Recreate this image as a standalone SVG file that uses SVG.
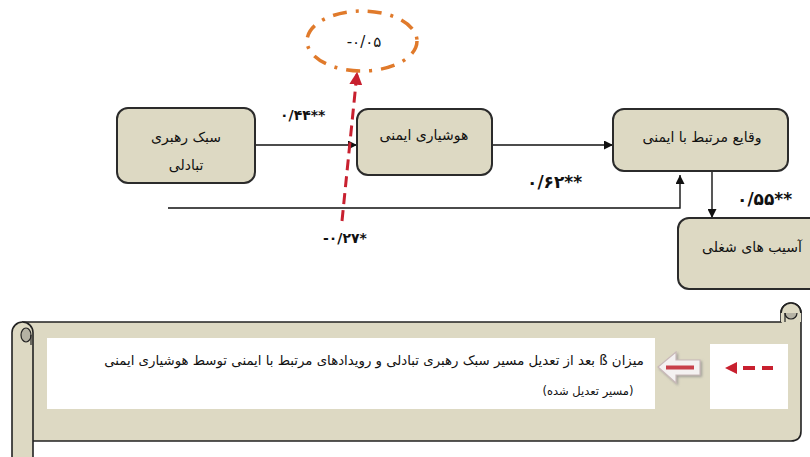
<svg xmlns="http://www.w3.org/2000/svg" width="810" height="457" viewBox="0 0 810 457">
<defs>
<style>
.node{fill:#DDD9C3;stroke:#2b2b2b;stroke-width:2}
.t{font-family:"DejaVu Sans",sans-serif;font-size:14px;fill:#111;text-anchor:middle}
.n{font-family:"DejaVu Sans",sans-serif;font-size:15px;fill:#111;font-weight:bold}
.conn{stroke:#111;stroke-width:1.4;fill:none}
.scroll{fill:#DDD9C3;stroke:#222;stroke-width:1.6}
.curl{fill:#B5B2A4;stroke:#222;stroke-width:1.2}
</style>
<marker id="ah" viewBox="0 0 10 10" refX="10" refY="5" markerWidth="9" markerHeight="9" markerUnits="userSpaceOnUse" orient="auto">
<path d="M0,0 L10,5 L0,10 Z" fill="#111"/>
</marker>
<marker id="ahr" viewBox="0 0 10 10" refX="9" refY="5" markerWidth="13" markerHeight="13" markerUnits="userSpaceOnUse" orient="auto">
<path d="M0,0 L10,5 L0,10 Z" fill="#C8202F"/>
</marker>
<filter id="sh" x="-20%" y="-20%" width="150%" height="150%">
<feDropShadow dx="1.5" dy="1.5" stdDeviation="1" flood-color="#888" flood-opacity="0.7"/>
</filter>
</defs>

<g id="moderation-ellipse">
<ellipse cx="362" cy="41" rx="55" ry="30" fill="none" stroke="#E07A2B" stroke-width="3.5" stroke-dasharray="14 9 3 9"/>
<text class="t" x="364" y="47" style="font-size:15px" direction="ltr">-۰/۰۵</text>
</g>

<g id="connectors">
<line class="conn" x1="255" y1="145" x2="357" y2="145" marker-end="url(#ah)"/>
<line class="conn" x1="492" y1="145" x2="613" y2="145" marker-end="url(#ah)"/>
<polyline class="conn" points="168,208 680,208 680,175" marker-end="url(#ah)"/>
<line class="conn" x1="712" y1="171" x2="712" y2="218" marker-end="url(#ah)"/>
<line x1="342" y1="221" x2="357" y2="73" stroke="#C8202F" stroke-width="3" stroke-dasharray="11 6" marker-end="url(#ahr)"/>
<text class="n" x="280" y="120" style="font-size:14px">۰/۴۴**</text>
<text class="n" x="323" y="243" style="font-size:14px">-۰/۲۷*</text>
<text class="n" x="527" y="188" style="font-size:17px">۰/۶۲**</text>
<text class="n" x="737" y="205" style="font-size:17px">۰/۵۵**</text>
</g>

<g id="node-leadership">
<rect class="node" x="117" y="108" width="138" height="75" rx="11"/>
<text class="t" x="186" y="142">سبک رهبری</text>
<text class="t" x="186" y="170">تبادلی</text>
</g>

<g id="node-awareness">
<rect class="node" x="357" y="109" width="135" height="66" rx="11"/>
<text class="t" x="424" y="140">هوشیاری ایمنی</text>
</g>

<g id="node-incidents">
<rect class="node" x="613" y="109" width="175" height="62" rx="11"/>
<text class="t" x="702" y="142">وقایع  مرتبط با ایمنی</text>
</g>

<g id="node-injuries">
<rect class="node" x="678" y="218" width="150" height="71" rx="11"/>
<text class="t" x="752" y="252">آسیب های شغلی</text>
</g>

<g id="legend">
<path class="scroll" d="M22,322 H781 V313 A10,10 0 0 1 801,313 V431 Q801,441 791,441 H32"/>
<path class="scroll" d="M781,322 V313 A10,10 0 0 1 801,313 V322 Z" style="stroke:none"/>
<path class="curl" d="M785,313 A6,6 0 0 1 797,313 A6,6 0 0 1 785,313 Z"/>
<path class="scroll" d="M781,313 A10,10 0 0 1 801,313" fill="none"/>
<line x1="785" y1="313" x2="785" y2="322" stroke="#222" stroke-width="1.2"/>
<rect class="scroll" x="12" y="322" width="21" height="145" rx="10.5"/>
<path class="curl" d="M21,335 A5,7 0 0 1 31,335 A5,7 0 0 1 21,335 Z"/>
<line x1="31" y1="335" x2="31" y2="345" stroke="#222" stroke-width="1.2"/>
<rect x="47" y="338" width="608" height="71" fill="#fff"/>
<rect x="710" y="344" width="78" height="65" fill="#fff"/>
<text class="t" x="374" y="365" direction="rtl" style="font-size:13.3px">میزان ß بعد از تعدیل مسیر سبک رهبری تبادلی و رویدادهای مرتبط با ایمنی توسط هوشیاری ایمنی</text>
<text class="t" x="588" y="395" direction="rtl" style="font-size:11.5px">(مسیر تعدیل شده)</text>
<g filter="url(#sh)">
<path d="M658,367 L676,352 L676,360 L700,360 L700,375 L676,375 L676,383 Z" fill="#F4F1F1" stroke="#C9B9B9" stroke-width="1.2"/>
</g>
<rect x="666" y="365.5" width="28" height="4" fill="#C8404A"/>
<path d="M725,368 L737,362 L737,374 Z" fill="#C8202F"/>
<rect x="743" y="366" width="12" height="4" fill="#C8202F"/>
<rect x="762" y="366" width="11" height="4" fill="#C8202F"/>
</g>
</svg>
